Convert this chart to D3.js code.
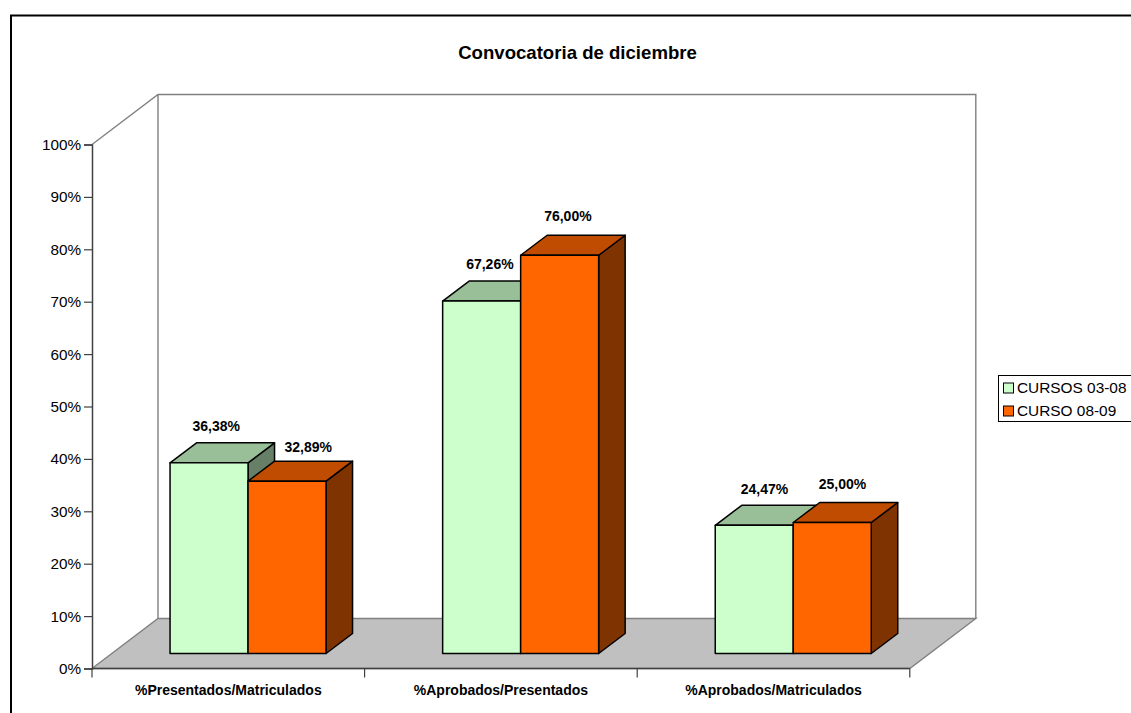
<!DOCTYPE html>
<html>
<head>
<meta charset="utf-8">
<script src="https://cdn.jsdelivr.net/npm/d3@7/dist/d3.min.js"></script>
<style>
html,body{margin:0;padding:0;background:#fff;overflow:hidden}
svg{display:block}
text{font-family:"Liberation Sans",Arial,sans-serif;fill:#000}
</style>
</head>
<body>
<script>
var categories = ["%Presentados/Matriculados","%Aprobados/Presentados","%Aprobados/Matriculados"]
var seriesNames = ["CURSOS 03-08","CURSO 08-09"]
var cursos0308 = [36.38,67.26,24.47]
var curso0809 = [32.89,76.00,25.00]
var yTicks = [0,10,20,30,40,50,60,70,80,90,100]

var width = 1131
var height = 713

// front colour, top face, side face
var faces = [["#ccffcc","#99bf99","#667f66"],["#ff6600","#bf4c00","#7f3300"]]

// excel moved the labels by hand, so they dont sit on a fixed offset
var labelNudge = [[[-6,-37],[8,-34]],[[-5,-37],[-5,-39]],[[-3,-36],[-3,-39]]]

var wallDx = 66, wallDy = -50 //depth of the floor
var barDx = 26.5, barDy = -20 //depth of a bar

var svg = d3.select("body").append("svg").attr("width",width).attr("height",height)

var y = d3.scaleLinear().domain([0,100]).range([668.5,144.5])
var x = d3.scaleBand().domain(categories).range([92,909.8])
var barW = 78
var inner = d3.scaleBand().domain(seriesNames).range([-barW,barW])
var barShiftX = (wallDx-barDx)/2
var barShiftY = (wallDy-barDy)/2

function pts(a){ return a.map(function(p){return p.join(",")}).join(" ") }

// outer frame, only top and left are inside the page
svg.append("path").attr("d","M11,713V15.5H1131").attr("fill","none").attr("stroke","#000").attr("stroke-width",2)

svg.append("text").text("Convocatoria de diciembre").attr("x",577.5).attr("y",59)
	.attr("text-anchor","middle").style("font-weight","bold").style("font-size","18.6px")

// walls
var x0 = x.range()[0], x1 = x.range()[1]
svg.append("polygon")
	.attr("points",pts([[x0,y(0)],[x0+wallDx,y(0)+wallDy],[x1+wallDx,y(0)+wallDy],[x1,y(0)]]))
	.attr("fill","#c0c0c0").attr("stroke","#808080").attr("stroke-width",1.4)
svg.append("path")
	.attr("d","M"+x0+","+y(100)+"L"+(x0+wallDx)+","+(y(100)+wallDy)+"H"+(x1+wallDx)+"V"+(y(0)+wallDy)
		+"M"+(x0+wallDx)+","+(y(100)+wallDy)+"V"+(y(0)+wallDy))
	.attr("fill","none").attr("stroke","#808080").attr("stroke-width",1.4)

// bars
var values = [cursos0308,curso0809]
var barLayer = svg.append("g").attr("stroke","#000").attr("stroke-width",1.5).attr("stroke-linejoin","round")
values.forEach(function(vals,s){
	var g = barLayer.append("g").selectAll("g").data(vals).enter().append("g")
	g.each(function(v,i){
		var left = x(categories[i])+x.bandwidth()/2+barShiftX+inner(seriesNames[s])
		var right = left+inner.bandwidth()
		var top = y(v)+barShiftY
		var bottom = y(0)+barShiftY
		var b = d3.select(this)
		b.append("polygon").attr("fill",faces[s][2])
			.attr("points",pts([[right,top],[right+barDx,top+barDy],[right+barDx,bottom+barDy],[right,bottom]]))
		b.append("polygon").attr("fill",faces[s][1])
			.attr("points",pts([[left,top],[left+barDx,top+barDy],[right+barDx,top+barDy],[right,top]]))
		b.append("rect").attr("fill",faces[s][0])
			.attr("x",left).attr("y",top).attr("width",right-left).attr("height",bottom-top)
	})
})

// value labels
values.forEach(function(vals,s){
	svg.append("g").selectAll("text").data(vals).enter().append("text")
		.text(function(d){return d3.format(".2f")(d).replace(".",",")+"%"})
		.attr("x",function(d,i){
			return x(categories[i])+x.bandwidth()/2+barShiftX+inner(seriesNames[s])+inner.bandwidth()/2+barDx/2+labelNudge[i][s][0]
		})
		.attr("y",function(d,i){return y(d)+barShiftY+labelNudge[i][s][1]+5})
		.attr("text-anchor","middle").style("font-weight","bold").style("font-size","14px")
})

// y axis
var yAxis = svg.append("g").attr("transform","translate(92,0)")
	.call(d3.axisLeft(y).tickValues(yTicks).tickSize(8).tickPadding(3).tickFormat(function(d){return d+"%"}))
yAxis.selectAll("text").style("font-size","15.3px").style("font-family",null)
yAxis.attr("font-family",null)
yAxis.selectAll("line").attr("stroke","#404040").attr("stroke-width",1.2)
yAxis.select(".domain").attr("stroke","#404040").attr("stroke-width",1.5)

// x axis, ticks go on the category borders not the centers
var xAxis = svg.append("g").attr("transform","translate(0,"+y(0)+")")
	.call(d3.axisBottom(x).tickSize(0).tickPadding(16.5))
xAxis.attr("font-family",null)
xAxis.select(".domain").remove()
xAxis.selectAll("text").style("font-size","14px").style("font-weight","bold")
svg.append("line").attr("x1",x0).attr("x2",x1).attr("y1",y(0)).attr("y2",y(0)).attr("stroke","#404040").attr("stroke-width",1.5)
var borders = x.domain().map(function(d){return x(d)}).concat([x1])
svg.append("g").selectAll("line").data(borders).enter().append("line")
	.attr("x1",function(d){return d}).attr("x2",function(d){return d})
	.attr("y1",y(0)).attr("y2",y(0)+9)
	.attr("stroke","#404040").attr("stroke-width",1.2)

// legend, runs off the right side like the original
var legend = svg.append("g")
legend.append("rect").attr("x",998.5).attr("y",375.5).attr("width",140).attr("height",46)
	.attr("fill","#fff").attr("stroke","#000").attr("stroke-width",1)
var row = d3.scalePoint().domain(seriesNames).range([387.5,410.5])
seriesNames.forEach(function(name,s){
	legend.append("rect").attr("x",1003.5).attr("y",row(name)-4.5).attr("width",10).attr("height",10)
		.attr("fill",faces[s][0]).attr("stroke","#000").attr("stroke-width",1)
	legend.append("text").text(name).attr("x",1017).attr("y",row(name)+5.5).style("font-size","15.4px")
})
</script>
</body>
</html>
